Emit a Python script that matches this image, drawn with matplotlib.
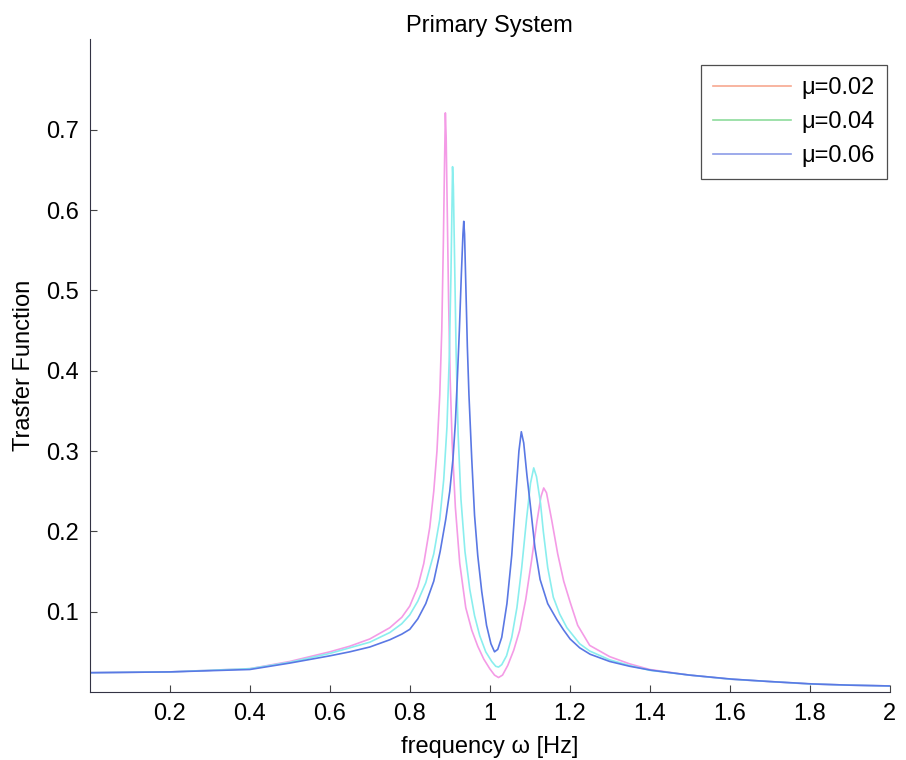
import matplotlib
matplotlib.use('Agg')
import matplotlib.pyplot as plt
from matplotlib.lines import Line2D

plt.rcParams['font.family'] = ['Liberation Sans', 'DejaVu Sans']
plt.rcParams['font.size'] = 17

# mu = 0.02
w_02 = [0.0, 0.2, 0.4, 0.5, 0.6, 0.65, 0.7, 0.75, 0.78, 0.80, 0.82, 0.835,
        0.85, 0.86, 0.868, 0.875, 0.880, 0.884, 0.887, 0.889, 0.891, 0.894,
        0.897, 0.901, 0.906, 0.914, 0.925, 0.940, 0.955, 0.970, 0.985, 1.000,
        1.012, 1.022, 1.032, 1.045, 1.06, 1.075, 1.09, 1.105, 1.118, 1.128,
        1.135, 1.142, 1.155, 1.170, 1.185, 1.201, 1.22, 1.25, 1.3, 1.35, 1.4,
        1.5, 1.6, 1.7, 1.8, 1.9, 2.0]
T_02 = [0.024, 0.025, 0.029, 0.038, 0.050, 0.057, 0.066, 0.080, 0.093, 0.107,
        0.131, 0.160, 0.205, 0.250, 0.300, 0.370, 0.450, 0.560, 0.660, 0.721,
        0.690, 0.590, 0.490, 0.390, 0.310, 0.230, 0.160, 0.105, 0.077, 0.057,
        0.041, 0.029, 0.021, 0.018, 0.021, 0.033, 0.052, 0.077, 0.115, 0.165,
        0.212, 0.243, 0.254, 0.248, 0.214, 0.172, 0.138, 0.112, 0.083, 0.058,
        0.044, 0.035, 0.028, 0.021, 0.016, 0.013, 0.010, 0.0085, 0.0075]

# mu = 0.04
w_04 = [0.0, 0.2, 0.4, 0.5, 0.6, 0.65, 0.7, 0.75, 0.78, 0.80, 0.82, 0.84,
        0.86, 0.875, 0.885, 0.893, 0.899, 0.903, 0.906, 0.907, 0.909, 0.912,
        0.916, 0.921, 0.928, 0.938, 0.950, 0.962, 0.975, 0.990, 1.005, 1.015,
        1.022, 1.030, 1.042, 1.055, 1.068, 1.080, 1.092, 1.102, 1.110, 1.117,
        1.127, 1.134, 1.145, 1.159, 1.175, 1.193, 1.225, 1.25, 1.3, 1.35, 1.4,
        1.5, 1.6, 1.7, 1.8, 1.9, 2.0]
T_04 = [0.024, 0.025, 0.029, 0.037, 0.048, 0.055, 0.062, 0.074, 0.085, 0.096,
        0.113, 0.136, 0.172, 0.215, 0.265, 0.330, 0.420, 0.520, 0.620, 0.654,
        0.630, 0.540, 0.420, 0.320, 0.240, 0.175, 0.128, 0.095, 0.070, 0.050,
        0.038, 0.032, 0.031, 0.034, 0.045, 0.068, 0.105, 0.155, 0.215, 0.260,
        0.279, 0.268, 0.235, 0.200, 0.155, 0.118, 0.097, 0.080, 0.060, 0.051,
        0.040, 0.033, 0.027, 0.021, 0.016, 0.013, 0.010, 0.0085, 0.0075]

# mu = 0.06
w_06 = [0.0, 0.2, 0.4, 0.5, 0.6, 0.65, 0.7, 0.75, 0.78, 0.80, 0.82, 0.84,
        0.86, 0.876, 0.89, 0.90, 0.908, 0.914, 0.919, 0.924, 0.929, 0.933,
        0.935, 0.937, 0.940, 0.944, 0.948, 0.955, 0.962, 0.970, 0.980, 0.992,
        1.003, 1.012, 1.020, 1.030, 1.043, 1.055, 1.066, 1.073, 1.079, 1.085,
        1.093, 1.101, 1.113, 1.126, 1.145, 1.168, 1.185, 1.201, 1.225, 1.251,
        1.3, 1.35, 1.405, 1.5, 1.606, 1.7, 1.808, 1.9, 2.0]
T_06 = [0.024, 0.025, 0.028, 0.036, 0.045, 0.050, 0.056, 0.065, 0.072, 0.078,
        0.091, 0.110, 0.138, 0.175, 0.215, 0.250, 0.290, 0.335, 0.390, 0.450,
        0.520, 0.570, 0.586, 0.570, 0.510, 0.430, 0.370, 0.290, 0.220, 0.170,
        0.125, 0.083, 0.060, 0.050, 0.053, 0.068, 0.110, 0.170, 0.250, 0.300,
        0.324, 0.310, 0.270, 0.235, 0.180, 0.140, 0.110, 0.090, 0.077, 0.066,
        0.055, 0.047, 0.038, 0.032, 0.027, 0.021, 0.016, 0.013, 0.010, 0.0085,
        0.0075]

labels = ['\u03bc=0.02', '\u03bc=0.04', '\u03bc=0.06']
xticks = [0.2, 0.4, 0.6, 0.8, 1, 1.2, 1.4, 1.6, 1.8, 2]
xticklabels = ['0.2', '0.4', '0.6', '0.8', '1', '1.2', '1.4', '1.6', '1.8', '2']
yticks = [0.1, 0.2, 0.3, 0.4, 0.5, 0.6, 0.7]

fig = plt.figure(figsize=(9.06, 7.6), dpi=100)
ax = fig.add_axes([0.0993, 0.0895, 0.8825, 0.8592])

ax.plot(w_02, T_02, color='#f49be6', linewidth=1.2)
ax.plot(w_04, T_04, color='#8aeeee', linewidth=1.2)
ax.plot(w_06, T_06, color='#5a78e4', linewidth=1.2)

ax.set_xlim(0, 2)
ax.set_ylim(0, 0.813)
ax.set_xticks(xticks)
ax.set_xticklabels(xticklabels)
ax.set_yticks(yticks)
ax.tick_params(direction='in', length=5, width=0.8, color='#444444', pad=8)
for s in ['top', 'right']:
    ax.spines[s].set_visible(False)
for s in ['left', 'bottom']:
    ax.spines[s].set_color('#333344')

ax.set_xlabel('frequency \u03c9 [Hz]', labelpad=8)
ax.set_ylabel('Trasfer Function', labelpad=8)
ax.set_title('Primary System', pad=5, fontsize=17)

# legend swatches
handles = [Line2D([], [], color='#f7a890', linewidth=1.2),
           Line2D([], [], color='#8edc9c', linewidth=1.2),
           Line2D([], [], color='#8c9ce8', linewidth=1.2)]
leg = ax.legend(handles, labels, loc='upper right', bbox_to_anchor=(0.979, 0.914),
                bbox_transform=fig.transFigure, borderaxespad=0, fancybox=False,
                edgecolor='#222222', handlelength=3.3, labelspacing=0.5,
                borderpad=0.5, handletextpad=0.45)
leg.get_frame().set_linewidth(0.9)

fig.savefig('out.png', dpi=100)
